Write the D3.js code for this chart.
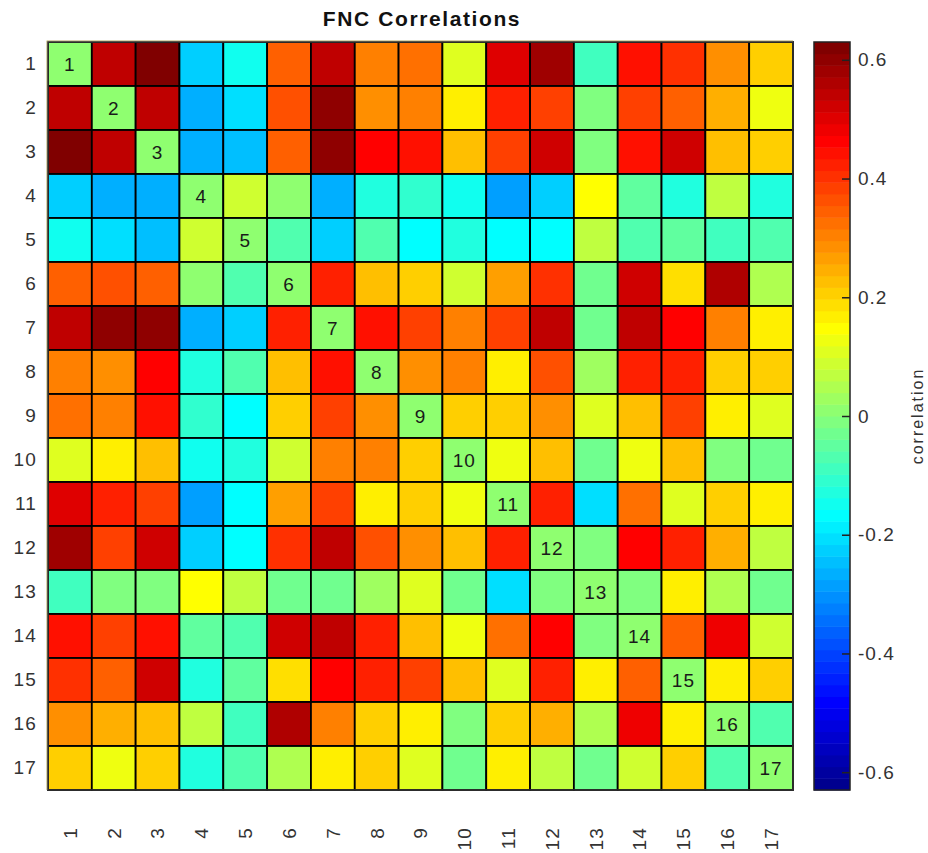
<!DOCTYPE html>
<html><head><meta charset="utf-8">
<script src="https://cdn.jsdelivr.net/npm/d3@7/dist/d3.min.js"></script>
<style>
body{margin:0;background:#fff;}
svg{display:block;font-family:"Liberation Sans",Arial,Helvetica,sans-serif;}
</style>
</head><body>
<svg id="c" width="928" height="853"></svg>
<script>
// ---- data ----
const labels = ["1","2","3","4","5","6","7","8","9","10","11","12","13","14","15","16","17"];
const row1  = [0, 0.535, 0.62, -0.227, -0.157, 0.35, 0.535, 0.30, 0.33, 0.11, 0.505, 0.585, -0.08, 0.448, 0.395, 0.29, 0.21];
const row2  = [0.535, 0, 0.535, -0.256, -0.214, 0.355, 0.602, 0.285, 0.31, 0.16, 0.416, 0.378, -0.005, 0.38, 0.352, 0.24, 0.132];
const row3  = [0.62, 0.535, 0, -0.256, -0.238, 0.337, 0.61, 0.47, 0.447, 0.235, 0.378, 0.52, -0.003, 0.435, 0.515, 0.228, 0.205];
const row4  = [-0.227, -0.256, -0.256, 0, 0.0945, 0.016, -0.256, -0.12, -0.11, -0.157, -0.287, -0.227, 0.157, -0.04, -0.133, 0.071, -0.13];
const row5  = [-0.157, -0.214, -0.238, 0.0945, 0, -0.066, -0.227, -0.063, -0.16, -0.13, -0.16, -0.165, 0.068, -0.063, -0.04, -0.085, -0.066];
const row6  = [0.35, 0.355, 0.337, 0.016, -0.066, 0, 0.424, 0.225, 0.21, 0.085, 0.258, 0.395, -0.025, 0.525, 0.189, 0.553, 0.059];
const row7  = [0.535, 0.602, 0.61, -0.256, -0.227, 0.424, 0, 0.447, 0.375, 0.30, 0.375, 0.535, -0.025, 0.535, 0.47, 0.30, 0.162];
const row8  = [0.30, 0.285, 0.47, -0.12, -0.063, 0.225, 0.447, 0, 0.287, 0.305, 0.16, 0.372, 0.034, 0.416, 0.416, 0.212, 0.212];
const row9  = [0.33, 0.31, 0.447, -0.11, -0.16, 0.21, 0.375, 0.287, 0, 0.215, 0.215, 0.28, 0.11, 0.22, 0.378, 0.16, 0.113];
const row10 = [0.11, 0.16, 0.235, -0.157, -0.13, 0.085, 0.30, 0.305, 0.215, 0, 0.126, 0.218, -0.03, 0.126, 0.23, -0.008, -0.02];
const row11 = [0.505, 0.416, 0.378, -0.287, -0.16, 0.258, 0.375, 0.16, 0.215, 0.126, 0, 0.416, -0.2, 0.322, 0.106, 0.21, 0.16];
const row12 = [0.585, 0.378, 0.52, -0.227, -0.165, 0.395, 0.535, 0.372, 0.28, 0.218, 0.416, 0, -0.008, 0.47, 0.416, 0.255, 0.075];
const row13 = [-0.08, -0.005, -0.003, 0.157, 0.068, -0.025, -0.025, 0.034, 0.11, -0.03, -0.2, -0.008, 0, -0.002, 0.16, 0.055, -0.028];
const row14 = [0.448, 0.38, 0.435, -0.04, -0.063, 0.525, 0.535, 0.416, 0.22, 0.126, 0.322, 0.47, -0.002, 0, 0.345, 0.49, 0.095];
const row15 = [0.395, 0.352, 0.515, -0.133, -0.04, 0.189, 0.47, 0.416, 0.378, 0.23, 0.106, 0.416, 0.16, 0.345, 0, 0.16, 0.21];
const row16 = [0.29, 0.24, 0.228, 0.071, -0.085, 0.553, 0.30, 0.212, 0.16, -0.008, 0.21, 0.255, 0.055, 0.49, 0.16, 0, -0.066];
const row17 = [0.21, 0.132, 0.205, -0.13, -0.066, 0.059, 0.162, 0.212, 0.113, -0.02, 0.16, 0.075, -0.028, 0.095, 0.21, -0.066, 0];
const matrix = [row1,row2,row3,row4,row5,row6,row7,row8,row9,row10,row11,row12,row13,row14,row15,row16,row17];
const colorLimits = [-0.63, 0.63];
const cbTickValues = [-0.6, -0.4, -0.2, 0, 0.2, 0.4, 0.6];
const cbTickLabels = ["-0.6", "-0.4", "-0.2", "0", "0.2", "0.4", "0.6"];
const titleText = "FNC Correlations";
const cbLabel = "correlation";

// ---- MATLAB jet(64) colormap ----
function jet(m) {
  const n = Math.ceil(m / 4);
  const u = [];
  for (let i = 1; i <= n; i++) u.push(i / n);
  for (let i = 1; i < n; i++) u.push(1);
  for (let i = n; i >= 1; i--) u.push(i / n);
  const g0 = Math.ceil(n / 2) - (m % 4 === 1 ? 1 : 0);
  const J = d3.range(m).map(() => [0, 0, 0]);
  u.forEach((val, k) => {
    const g = g0 + k + 1, r = g + n, b = g - n;
    if (g >= 1 && g <= m) J[g - 1][1] = val;
    if (r >= 1 && r <= m) J[r - 1][0] = val;
    if (b >= 1 && b <= m) J[b - 1][2] = val;
  });
  return J.map(c => d3.rgb(c[0] * 255, c[1] * 255, c[2] * 255).formatHex());
}
const cmap = jet(64);
const color = d3.scaleQuantize().domain(colorLimits).range(cmap);

// ---- layout ----
const svg = d3.select("#c");
const L = 48, R = 793, T = 42, B = 790;
const x = d3.scaleBand().domain(labels).range([L, R]);
const y = d3.scaleBand().domain(labels).range([T, B]);

const cells = [];
matrix.forEach((row, i) => row.forEach((v, j) => cells.push({r: labels[i], c: labels[j], v})));

svg.append("g").selectAll("rect").data(cells).join("rect")
  .attr("x", d => x(d.c)).attr("y", d => y(d.r))
  .attr("width", x.bandwidth()).attr("height", y.bandwidth())
  .attr("fill", d => color(d.v))
  .attr("stroke", "#000").attr("stroke-width", 1.8);

// diagonal labels
svg.append("g").selectAll("text").data(labels).join("text")
  .attr("x", d => x(d) + x.bandwidth() / 2)
  .attr("y", d => y(d) + y.bandwidth() / 2)
  .attr("dy", "0.36em").attr("text-anchor", "middle")
  .attr("font-size", 19).attr("letter-spacing", 1).attr("fill", "#1a1a1a")
  .text(d => d);

// frame
svg.append("rect").attr("x", L).attr("y", T).attr("width", R - L).attr("height", B - T)
  .attr("fill", "none").attr("stroke", "#333").attr("stroke-width", 1.5);
svg.append("path").attr("d", `M${L - 1.2},${B} V${T - 1.2} H${R}`)
  .attr("fill", "none").attr("stroke", "#c9c08c").attr("stroke-width", 1);

// y axis
const ya = svg.append("g").attr("transform", `translate(${L},0)`)
  .call(d3.axisLeft(y).tickSize(0).tickPadding(11));
ya.select(".domain").remove();
ya.selectAll("text").attr("font-size", 19).attr("letter-spacing", 1.2).attr("fill", "#333")
  .attr("font-family", null);

// x axis
const xa = svg.append("g").attr("transform", `translate(0,${B})`)
  .call(d3.axisBottom(x).tickSize(0));
xa.select(".domain").remove();
xa.selectAll("text")
  .attr("transform", "rotate(-90)")
  .attr("x", -37).attr("y", 0).attr("dy", "0.36em")
  .attr("text-anchor", "end")
  .attr("font-size", 19).attr("letter-spacing", 1.2).attr("fill", "#333")
  .attr("font-family", null);

// title
svg.append("text").attr("x", 422).attr("y", 26).attr("text-anchor", "middle")
  .attr("font-size", 21).attr("font-weight", "bold").attr("letter-spacing", 1.6)
  .attr("fill", "#111").text(titleText);

// colorbar
const CL = 814, CR = 850;
const cy = d3.scaleLinear().domain(colorLimits).range([B, T]);
const bands = cmap.map((c, i) => ({c, ext: color.invertExtent(c)}));
svg.append("g").selectAll("rect").data(bands).join("rect")
  .attr("x", CL).attr("width", CR - CL)
  .attr("y", d => cy(d.ext[1])).attr("height", d => cy(d.ext[0]) - cy(d.ext[1]) + 0.5)
  .attr("fill", d => d.c);
svg.append("rect").attr("x", CL).attr("y", T).attr("width", CR - CL).attr("height", B - T)
  .attr("fill", "none").attr("stroke", "#222").attr("stroke-width", 1.5);
const ca = svg.append("g").attr("transform", `translate(${CR},0)`)
  .call(d3.axisRight(cy).tickValues(cbTickValues).tickSize(-8).tickPadding(8)
    .tickFormat((d, i) => cbTickLabels[i]));
ca.select(".domain").remove();
ca.selectAll("line").attr("stroke", "#222").attr("stroke-width", 1.5);
ca.selectAll("text").attr("font-size", 19).attr("letter-spacing", 1).attr("fill", "#333")
  .attr("font-family", null);

svg.append("text").attr("transform", "translate(917,416) rotate(-90)")
  .attr("text-anchor", "middle").attr("dy", "0.35em")
  .attr("font-size", 16).attr("letter-spacing", 2).attr("fill", "#333")
  .text(cbLabel);
</script>
</body></html>
